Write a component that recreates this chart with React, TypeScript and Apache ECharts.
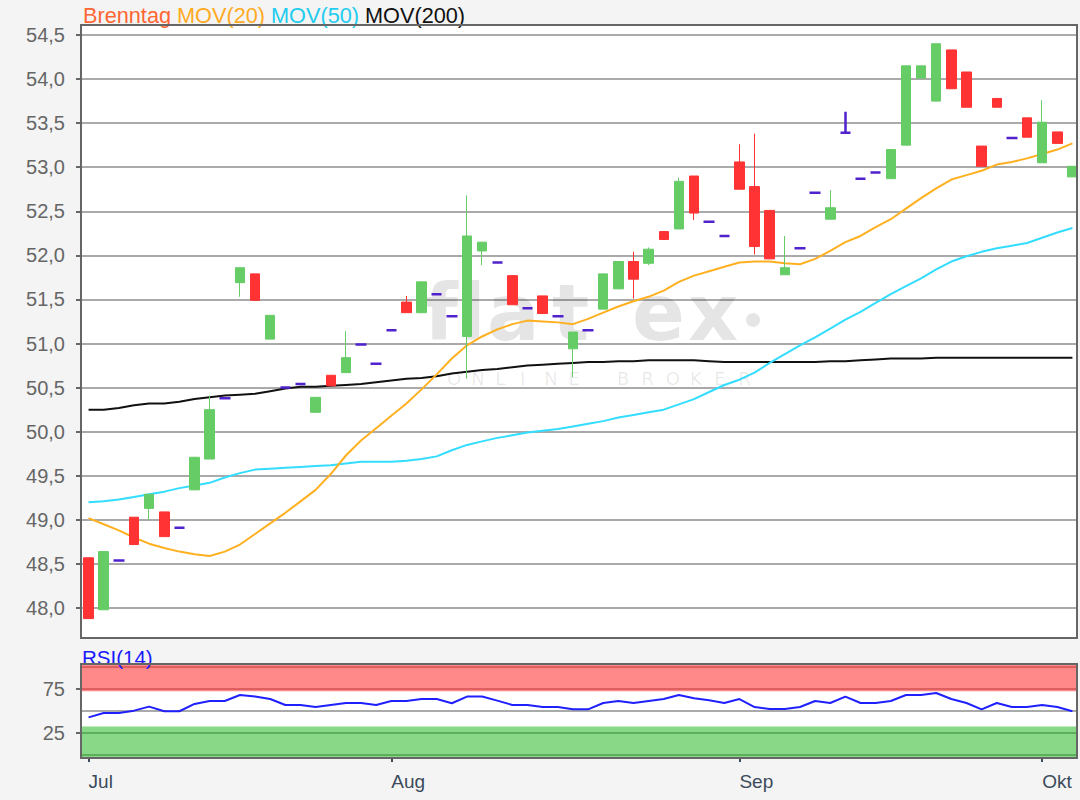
import React, { useEffect, useRef } from 'react';
import * as echarts from 'echarts';

// ---------- data ----------
const monthLabels = ['Jul', 'Aug', 'Sep', 'Okt'];
const monthStartIndex = [0, 20, 43, 63];

const priceTicks = [48.0, 48.5, 49.0, 49.5, 50.0, 50.5, 51.0, 51.5, 52.0, 52.5, 53.0, 53.5, 54.0, 54.5];
const rsiTicks = [25, 75];

// [open, close, low, high]
const ohlc: number[][] = [
  [48.57, 47.88, 47.88, 48.57],
  [47.98, 48.64, 47.98, 48.64],
  [48.54, 48.54, 48.54, 48.54],
  [49.03, 48.72, 48.72, 49.03],
  [49.13, 49.29, 49.0, 49.29],
  [49.09, 48.81, 48.81, 49.09],
  [48.91, 48.91, 48.91, 48.91],
  [49.34, 49.71, 49.34, 49.71],
  [49.69, 50.25, 49.69, 50.41],
  [50.38, 50.38, 50.38, 50.38],
  [51.69, 51.86, 51.53, 51.86],
  [51.79, 51.49, 51.49, 51.79],
  [51.05, 51.32, 51.05, 51.32],
  [50.5, 50.5, 50.5, 50.5],
  [50.54, 50.54, 50.54, 50.54],
  [50.22, 50.39, 50.22, 50.39],
  [50.64, 50.52, 50.52, 50.64],
  [50.67, 50.84, 50.67, 51.14],
  [50.99, 50.99, 50.99, 50.99],
  [50.77, 50.77, 50.77, 50.77],
  [51.15, 51.15, 51.15, 51.15],
  [51.47, 51.35, 51.35, 51.54],
  [51.35, 51.7, 51.35, 51.7],
  [51.56, 51.56, 51.56, 51.56],
  [51.31, 51.31, 51.31, 51.31],
  [51.08, 52.22, 50.6, 52.68],
  [52.05, 52.15, 51.89, 52.15],
  [51.92, 51.92, 51.92, 51.92],
  [51.77, 51.44, 51.44, 51.77],
  [51.4, 51.4, 51.4, 51.4],
  [51.54, 51.34, 51.34, 51.54],
  [51.31, 51.31, 51.31, 51.31],
  [50.94, 51.13, 50.62, 51.13],
  [51.15, 51.15, 51.15, 51.15],
  [51.39, 51.79, 51.39, 51.79],
  [51.62, 51.93, 51.62, 51.93],
  [51.93, 51.73, 51.51, 52.04],
  [51.91, 52.07, 51.89, 52.09],
  [52.27, 52.18, 52.18, 52.27],
  [52.3, 52.84, 52.3, 52.88],
  [52.9, 52.48, 52.4, 52.9],
  [52.38, 52.38, 52.38, 52.38],
  [52.22, 52.22, 52.22, 52.22],
  [53.06, 52.75, 52.75, 53.26],
  [52.78, 52.1, 52.01, 53.38],
  [52.51, 51.96, 51.96, 52.51],
  [51.78, 51.86, 51.78, 52.22],
  [52.08, 52.08, 52.08, 52.08],
  [52.71, 52.71, 52.71, 52.71],
  [52.41, 52.54, 52.41, 52.74],
  [53.39, 53.39, 53.39, 53.63],
  [52.87, 52.87, 52.87, 52.87],
  [52.94, 52.94, 52.94, 52.94],
  [52.87, 53.2, 52.87, 53.2],
  [53.25, 54.15, 53.25, 54.15],
  [54.01, 54.15, 54.01, 54.15],
  [53.75, 54.4, 53.75, 54.4],
  [54.33, 53.89, 53.89, 54.33],
  [54.08, 53.68, 53.68, 54.08],
  [53.24, 53.01, 53.01, 53.24],
  [53.78, 53.68, 53.68, 53.78],
  [53.33, 53.33, 53.33, 53.33],
  [53.56, 53.34, 53.34, 53.56],
  [53.05, 53.51, 53.05, 53.76],
  [53.4, 53.27, 53.27, 53.4],
  [52.89, 53.01, 52.89, 53.01],
];

const mov20 = [
  49.02, 48.95, 48.88, 48.8, 48.73, 48.68, 48.64, 48.61, 48.59, 48.64,
  48.72, 48.84, 48.96, 49.08, 49.21, 49.34, 49.52, 49.73, 49.9, 50.04,
  50.18, 50.32, 50.48, 50.65, 50.83, 50.98, 51.08, 51.16, 51.22, 51.26,
  51.25, 51.24, 51.22, 51.28, 51.35, 51.42, 51.48, 51.53, 51.6, 51.7,
  51.77, 51.82, 51.87, 51.92, 51.93, 51.93, 51.91, 51.9, 51.96, 52.05,
  52.15, 52.22, 52.32, 52.41, 52.53, 52.65, 52.76, 52.86, 52.91, 52.96,
  53.03, 53.06, 53.1, 53.15, 53.2, 53.27,
];

const mov50 = [
  49.2, 49.21, 49.23, 49.26, 49.29, 49.32, 49.36, 49.39, 49.42, 49.48,
  49.53, 49.57, 49.58, 49.59, 49.6, 49.61, 49.62, 49.64, 49.66, 49.66,
  49.66, 49.67, 49.69, 49.72, 49.79, 49.85, 49.89, 49.93, 49.96, 49.99,
  50.01, 50.03, 50.06, 50.09, 50.12, 50.16, 50.19, 50.22, 50.25, 50.31,
  50.37, 50.45, 50.53, 50.59, 50.67, 50.78, 50.88, 50.98, 51.07, 51.17,
  51.27, 51.36, 51.46, 51.56, 51.65, 51.74, 51.84, 51.93, 51.99, 52.04,
  52.08, 52.11, 52.14, 52.2, 52.26, 52.31,
];

const mov200 = [
  50.25, 50.25, 50.27, 50.3, 50.32, 50.32, 50.34, 50.37, 50.39, 50.41,
  50.42, 50.43, 50.46, 50.49, 50.51, 50.51, 50.52, 50.53, 50.54, 50.56,
  50.58, 50.6, 50.61, 50.63, 50.66, 50.68, 50.7, 50.71, 50.73, 50.75,
  50.76, 50.77, 50.78, 50.79, 50.79, 50.8, 50.8, 50.81, 50.81, 50.81,
  50.81, 50.8, 50.79, 50.79, 50.79, 50.79, 50.79, 50.79, 50.79, 50.8,
  50.8, 50.81, 50.82, 50.83, 50.83, 50.83, 50.84, 50.84, 50.84, 50.84,
  50.84, 50.84, 50.84, 50.84, 50.84, 50.84,
];

const rsi14 = [
  42.8, 47.7, 47.7, 50.4, 55.0, 49.7, 49.7, 58.0, 61.4, 61.4,
  68.2, 66.4, 63.6, 56.8, 56.8, 54.5, 56.8, 59.1, 59.1, 56.8,
  61.4, 61.4, 63.6, 63.6, 58.8, 66.4, 66.4, 61.8, 56.8, 56.8,
  54.5, 54.5, 51.9, 51.9, 59.1, 61.4, 59.1, 61.4, 63.6, 68.2,
  64.4, 62.2, 59.1, 63.6, 54.5, 52.3, 52.3, 54.5, 61.4, 59.1,
  66.4, 59.1, 59.1, 61.4, 68.2, 68.2, 70.5, 63.6, 59.1, 51.9,
  59.1, 54.5, 54.5, 56.8, 54.5, 49.7,
];

// ---------- styles ----------
const BG = '#f4f4f4';
const GREEN = '#66cc66';
const RED = '#ff3333';
const DOJI = '#5022cc';
const FONT = 'Liberation Sans, Arial, sans-serif';
const LEGEND_SIZE = 21.7;

export default function App() {
  const ref = useRef<HTMLDivElement>(null);

  useEffect(() => {
    if (!ref.current) return;
    const chart = echarts.init(ref.current, null, { renderer: 'svg' });

    const categories = ohlc.map((_, i) => `T${i + 1}`);
    const isDoji = (d: number[]) => d[0] === d[1];
    const candleData = ohlc.map((d) => (isDoji(d) ? '-' : d));
    const dojiData = ohlc.map((d) => (isDoji(d) ? d : '-'));

    const monthInterval = (index: number) => monthStartIndex.includes(index);

    // watermark letters (positions are styling only)
    const wmLetters = [
      { t: 'f', x: 424 },
      { t: 'l', x: 459 },
      { t: 'a', x: 487 },
      { t: 't', x: 552 },
      { t: 'e', x: 632 },
      { t: 'x', x: 688 },
    ];
    const wmSub = 'ONLINE BROKER'.split('');

    const legendRich = (color: string) => ({ color, fontSize: LEGEND_SIZE, fontFamily: FONT });

    const option: any = {
      animation: false,
      backgroundColor: BG,
      title: [
        {
          left: 78,
          top: -1,
          text: '{a|Brenntag} {b|MOV(20)} {c|MOV(50)} {d|MOV(200)}',
          textStyle: {
            fontFamily: FONT,
            fontSize: LEGEND_SIZE,
            fontWeight: 'normal',
            rich: {
              a: legendRich('#ff6633'),
              b: legendRich('#ffaa22'),
              c: legendRich('#22ccee'),
              d: legendRich('#111111'),
            },
          },
        },
        {
          left: 77,
          top: 642,
          text: 'RSI(14)',
          textStyle: { fontFamily: FONT, fontSize: 20.5, fontWeight: 'normal', color: '#1a1aff' },
        },
      ],
      grid: [
        { left: 81, top: 25, width: 999, height: 613, show: true, backgroundColor: '#ffffff', borderWidth: 0 },
        { left: 81, top: 664, width: 999, height: 94, show: true, backgroundColor: '#ffffff', borderWidth: 0 },
      ],
      xAxis: [
        {
          type: 'category',
          gridIndex: 0,
          data: categories,
          boundaryGap: true,
          axisLine: { show: true, lineStyle: { color: '#666', width: 2 } },
          axisTick: { show: false },
          axisLabel: { show: false },
          splitLine: { show: false },
        },
        {
          type: 'category',
          gridIndex: 1,
          data: categories,
          boundaryGap: true,
          axisLine: { show: true, lineStyle: { color: '#666', width: 2 } },
          axisTick: {
            show: true,
            interval: monthInterval,
            alignWithLabel: true,
            length: 7,
            lineStyle: { color: '#3b4b5b', width: 2 },
          },
          axisLabel: {
            show: true,
            interval: monthInterval,
            align: 'left',
            margin: 14,
            fontFamily: FONT,
            fontSize: 19,
            color: '#3b4b5b',
            formatter: (_v: string, index: number) => {
              const k = monthStartIndex.indexOf(index);
              return k >= 0 ? monthLabels[k] : '';
            },
          },
          splitLine: { show: false },
        },
      ],
      yAxis: [
        {
          type: 'value',
          gridIndex: 0,
          min: 47.66,
          max: 54.613,
          splitNumber: 14,
          minInterval: 0.5,
          maxInterval: 0.5,
          axisLine: { show: true, lineStyle: { color: '#666', width: 2 } },
          axisTick: { show: true, length: 5, lineStyle: { color: '#666', width: 2 }, customValues: priceTicks },
          axisLabel: {
            show: true,
            margin: 16,
            fontFamily: FONT,
            fontSize: 20,
            color: '#666',
            customValues: priceTicks,
            formatter: (v: number) =>
              priceTicks.some((t) => Math.abs(t - v) < 1e-6) ? v.toFixed(1).replace('.', ',') : '',
          },
          splitLine: { show: true, lineStyle: { color: '#aaaaaa', width: 2 } },
        },
        {
          type: 'value',
          gridIndex: 1,
          min: -3.4,
          max: 103.4,
          axisLine: { show: true, lineStyle: { color: '#666', width: 2 } },
          axisTick: { show: true, length: 5, lineStyle: { color: '#666', width: 2 }, customValues: rsiTicks },
          axisLabel: {
            show: true,
            margin: 16,
            fontFamily: FONT,
            fontSize: 20,
            color: '#666',
            customValues: rsiTicks,
            formatter: (v: number) => (rsiTicks.includes(v) ? String(v) : ''),
          },
          splitLine: { show: false },
        },
      ],
      graphic: [
        ...wmLetters.map((l) => ({
          type: 'text',
          z: 1,
          silent: true,
          x: l.x,
          y: 313,
          style: {
            text: l.t,
            fontFamily: 'DejaVu Sans',
            fontWeight: 'bold',
            fontSize: 78,
            fill: 'rgba(0,0,0,0.1)',
            verticalAlign: 'middle',
          },
        })),
        { type: 'circle', z: 1, silent: true, shape: { cx: 753, cy: 320, r: 7 }, style: { fill: 'rgba(0,0,0,0.1)' } },
        ...wmSub.map((ch, k) => ({
          type: 'text',
          z: 1,
          silent: true,
          x: 447 + k * 24.3,
          y: 378,
          style: {
            text: ch,
            fontFamily: 'DejaVu Sans',
            fontSize: 18,
            fill: 'rgba(0,0,0,0.09)',
            verticalAlign: 'middle',
          },
        })),
        { type: 'rect', z: 100, silent: true, shape: { x: 1078, y: 0, width: 30, height: 800 }, style: { fill: BG } },
        {
          type: 'rect',
          z: 101,
          silent: true,
          shape: { x: 81, y: 25, width: 996, height: 613 },
          style: { fill: 'none', stroke: '#666', lineWidth: 2 },
        },
        {
          type: 'rect',
          z: 101,
          silent: true,
          shape: { x: 81, y: 664, width: 996, height: 94 },
          style: { fill: 'none', stroke: '#666', lineWidth: 2 },
        },
      ],
      series: [
        {
          name: 'MOV(200)',
          type: 'line',
          xAxisIndex: 0,
          yAxisIndex: 0,
          data: mov200,
          showSymbol: false,
          z: 3,
          lineStyle: { color: '#111111', width: 2 },
        },
        {
          name: 'MOV(50)',
          type: 'line',
          xAxisIndex: 0,
          yAxisIndex: 0,
          data: mov50,
          showSymbol: false,
          z: 3,
          lineStyle: { color: '#33ddff', width: 2 },
        },
        {
          name: 'MOV(20)',
          type: 'line',
          xAxisIndex: 0,
          yAxisIndex: 0,
          data: mov20,
          showSymbol: false,
          z: 3,
          lineStyle: { color: '#ffb020', width: 2 },
        },
        {
          name: 'Brenntag',
          type: 'candlestick',
          xAxisIndex: 0,
          yAxisIndex: 0,
          data: candleData,
          barWidth: 10,
          z: 4,
          itemStyle: {
            color: GREEN,
            color0: RED,
            borderColor: GREEN,
            borderColor0: RED,
            borderWidth: 1,
          },
        },
        {
          name: 'Doji',
          type: 'candlestick',
          xAxisIndex: 0,
          yAxisIndex: 0,
          data: dojiData,
          barWidth: 11,
          z: 4,
          itemStyle: {
            color: DOJI,
            color0: DOJI,
            borderColor: DOJI,
            borderColor0: DOJI,
            borderColorDoji: DOJI,
            borderWidth: 2.5,
          },
        },
        {
          name: 'bands',
          type: 'line',
          xAxisIndex: 1,
          yAxisIndex: 1,
          data: [],
          z: 1,
          silent: true,
          markArea: {
            silent: true,
            data: [
              [{ yAxis: 72.5, itemStyle: { color: '#ff8888' } }, { yAxis: 103.4 }],
              [{ yAxis: -3.4, itemStyle: { color: '#88d888' } }, { yAxis: 32.5 }],
            ],
          },
          markLine: {
            silent: true,
            symbol: ['none', 'none'],
            label: { show: false },
            data: [
              { yAxis: 100, lineStyle: { color: '#dd5f5f', width: 2, type: 'solid' } },
              { yAxis: 75, lineStyle: { color: '#dd5f5f', width: 2, type: 'solid' } },
              { yAxis: 50, lineStyle: { color: '#aaaaaa', width: 2, type: 'solid' } },
              { yAxis: 25, lineStyle: { color: '#5cb05c', width: 2, type: 'solid' } },
              { yAxis: 0, lineStyle: { color: '#5cb05c', width: 2, type: 'solid' } },
            ],
          },
        },
        {
          name: 'RSI(14)',
          type: 'line',
          xAxisIndex: 1,
          yAxisIndex: 1,
          data: rsi14,
          showSymbol: false,
          z: 5,
          lineStyle: { color: '#2020ff', width: 2 },
        },
      ],
    };

    chart.setOption(option);
    return () => chart.dispose();
  }, []);

  return (
    <div
      ref={ref}
      style={{ position: 'fixed', left: 0, top: 0, width: 1080, height: 800, background: BG }}
    />
  );
}
